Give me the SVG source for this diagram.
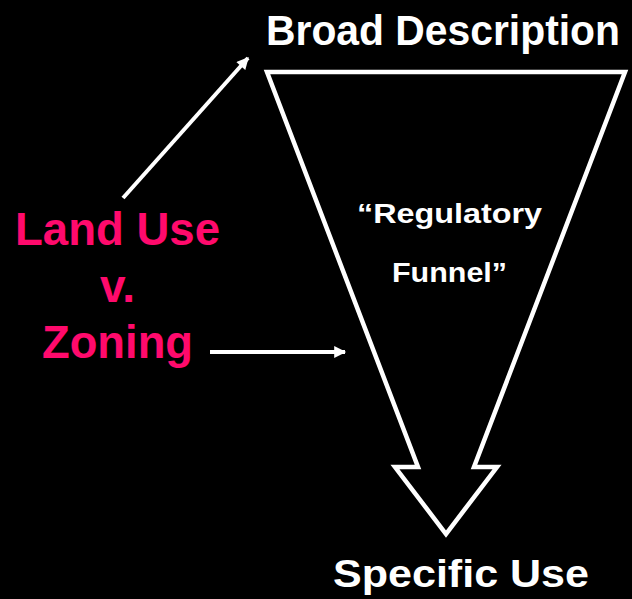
<svg xmlns="http://www.w3.org/2000/svg" width="632" height="599" viewBox="0 0 632 599">
<style>
.w{fill:#fff;font-family:"Liberation Sans",Arial,sans-serif;font-weight:bold}
.p{fill:#FF0A6C;font-family:"Liberation Sans",Arial,sans-serif;font-weight:bold}
.ln{stroke:#fff;stroke-width:4;fill:none}
</style>
<defs>
<marker id="ah" viewBox="0 0 10 10" refX="9" refY="5" markerWidth="3.2" markerHeight="3" orient="auto" markerUnits="strokeWidth">
<path d="M0,0 L10,5 L0,10 Z" fill="#fff"/>
</marker>
</defs>
<rect width="632" height="599" fill="#000"/>
<g id="funnel">
<path d="M267,72 L418,467 L395,467 L446,534 L497,467 L474,467 L625,72 Z" fill="none" stroke="#fff" stroke-width="4.5" stroke-linejoin="miter"/>
<text class="w" x="449.5" y="223" font-size="27" text-anchor="middle" textLength="185" lengthAdjust="spacingAndGlyphs">“Regulatory</text>
<text class="w" x="449.5" y="282" font-size="27" text-anchor="middle" textLength="115" lengthAdjust="spacingAndGlyphs">Funnel”</text>
</g>
<g id="broad">
<text class="w" x="443" y="45" font-size="42" text-anchor="middle" textLength="354" lengthAdjust="spacingAndGlyphs">Broad Description</text>
</g>
<g id="specific">
<text class="w" x="461" y="587" font-size="38" text-anchor="middle" textLength="256" lengthAdjust="spacingAndGlyphs">Specific Use</text>
</g>
<g id="landuse">
<text class="p" x="117.5" y="245" font-size="46" text-anchor="middle" textLength="205" lengthAdjust="spacingAndGlyphs">Land Use</text>
<text class="p" x="117.5" y="302" font-size="46" text-anchor="middle" textLength="35" lengthAdjust="spacingAndGlyphs">v.</text>
<text class="p" x="117.5" y="358" font-size="46" text-anchor="middle" textLength="151" lengthAdjust="spacingAndGlyphs">Zoning</text>
</g>
<g id="connectors">
<line class="ln" x1="123" y1="198" x2="248" y2="58" marker-end="url(#ah)"/>
<line class="ln" x1="210" y1="352" x2="345" y2="352" marker-end="url(#ah)"/>
</g>
</svg>
